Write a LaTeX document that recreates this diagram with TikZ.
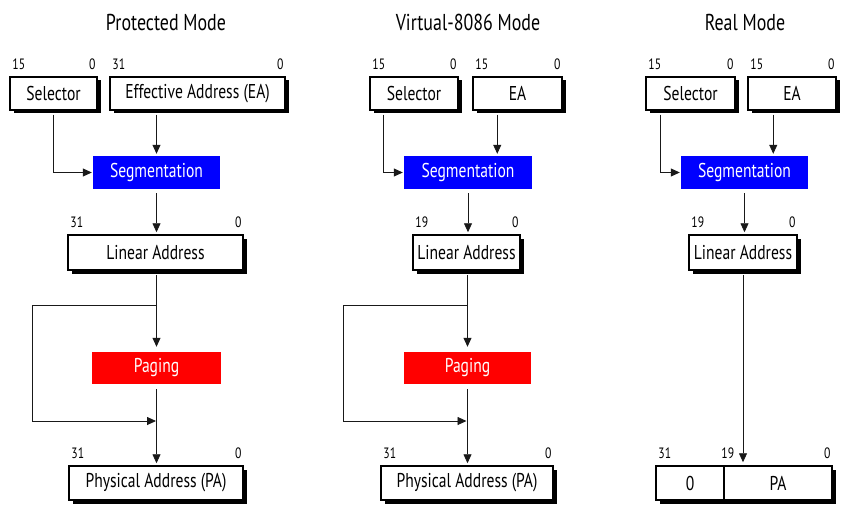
\documentclass[tikz,border=0pt]{standalone}
\usepackage{fontspec}
\setmainfont{PT Sans}[FakeStretch=0.78]
\usetikzlibrary{arrows.meta,shadows}

% bit-range labels above a register box: high bit on the left, low bit on the right
\newcommand\bitlabels[3]{%
  \node[bit, anchor=base west] (#1-hi) at ([shift={(3pt,7pt)}]#1.north west) {#2};
  \node[bit, anchor=base east] (#1-lo) at ([shift={(-2pt,7pt)}]#1.north east) {#3};}

\begin{document}
\begin{tikzpicture}[x=1pt,y=-1pt,
  reg/.style={draw=black, line width=1.5pt, fill=white, minimum height=33pt,
    inner sep=0pt, font=\fontsize{20}{20}\selectfont,
    drop shadow={shadow xshift=3.5pt, shadow yshift=-3.5pt, fill=black, opacity=1}},
  unit/.style={fill=#1, text=white, minimum height=33pt, inner sep=0pt,
    font=\fontsize{20}{20}\selectfont},
  bit/.style={font=\fontsize{15}{15}\selectfont, inner sep=0pt},
  title/.style={font=\fontsize{23}{23}\selectfont, inner sep=0pt},
  conn/.style={line width=0.85pt, draw=black!90, -{Triangle[length=9pt,width=8pt]}},
]
\useasboundingbox (0,0) rectangle (845,513);

% ---------------- Protected Mode ----------------
\node[title] (tP) at (166,22) {Protected Mode};
\node[reg, minimum width=87pt] (selP) at (53.5,93.5) {Selector};
\node[reg, minimum width=175pt] (eaP) at (197.5,93.5) {Effective Address (EA)};
\node[unit=blue, minimum width=127pt] (segP) at (156.5,172.5) {Segmentation};
\node[reg, minimum width=175pt, minimum height=35pt] (linP) at (155.5,252.5) {Linear Address};
\node[unit=red, minimum width=129pt, minimum height=32pt] (pagP) at (156.5,368) {Paging};
\node[reg, minimum width=174pt, minimum height=34pt] (paP) at (156,483) {Physical Address (PA)};
\bitlabels{selP}{15}{0}
\bitlabels{eaP}{31}{0}
\bitlabels{linP}{31}{0}
\bitlabels{paP}{31}{0}

\draw[conn, shorten <=4pt, shorten >=2pt] (segP.north |- eaP.south) -- (segP.north);
\draw[conn, shorten <=4pt, shorten >=1pt] (selP.south) |- (segP.west);
\draw[conn, shorten <=4pt, shorten >=2pt] (segP.south) -- (segP.south |- linP.north);
\draw[conn, shorten <=4pt, shorten >=5pt] (pagP.north |- linP.south) -- (pagP.north);
\coordinate (brP) at (157,305);
\coordinate (lpP) at (32,421);
\coordinate (mgP) at (157,421);
\draw[conn, shorten >=1pt] (brP) -| (lpP) -- (mgP);
\draw[conn, shorten <=5pt, shorten >=2pt] (pagP.south) -- (pagP.south |- paP.north);

% ---------------- Virtual-8086 Mode ----------------
\node[title] (tV) at (468,22) {Virtual-8086 Mode};
\node[reg, minimum width=88pt] (selV) at (414,93.5) {Selector};
\node[reg, minimum width=89pt] (eaV) at (517.5,93.5) {EA};
\node[unit=blue, minimum width=128pt] (segV) at (468,172.5) {Segmentation};
\node[reg, minimum width=107pt, minimum height=35pt] (linV) at (466.5,252.5) {Linear Address};
\node[unit=red, minimum width=127pt, minimum height=32pt] (pagV) at (467.5,368) {Paging};
\node[reg, minimum width=172pt, minimum height=34pt] (paV) at (467,483) {Physical Address (PA)};
\bitlabels{selV}{15}{0}
\bitlabels{eaV}{15}{0}
\bitlabels{linV}{19}{0}
\bitlabels{paV}{31}{0}

\coordinate (selVo) at ([xshift=14pt]selV.south west);
\coordinate (eaVo) at ([xshift=25pt]eaV.south west);
\draw[conn, shorten <=4pt, shorten >=2pt] (eaVo) -- (eaVo |- segV.north);
\draw[conn, shorten <=4pt, shorten >=1pt] (selVo) |- (segV.west);
\draw[conn, shorten <=4pt, shorten >=2pt] (segV.south) -- (segV.south |- linV.north);
\draw[conn, shorten <=4pt, shorten >=5pt] (pagV.north |- linV.south) -- (pagV.north);
\coordinate (brV) at (467.5,305);
\coordinate (lpV) at (343,421);
\coordinate (mgV) at (467.5,421);
\draw[conn, shorten >=1pt] (brV) -| (lpV) -- (mgV);
\draw[conn, shorten <=5pt, shorten >=2pt] (pagV.south) -- (pagV.south |- paV.north);

% ---------------- Real Mode ----------------
\node[title] (tR) at (745,22) {Real Mode};
\node[reg, minimum width=89pt] (selR) at (690.5,93.5) {Selector};
\node[reg, minimum width=88pt] (eaR) at (792,93.5) {EA};
\node[unit=blue, minimum width=127pt] (segR) at (744.5,172.5) {Segmentation};
\node[reg, minimum width=108pt, minimum height=35pt] (linR) at (743,252.5) {Linear Address};
\node[reg, minimum width=68pt, minimum height=34pt] (paR0) at (690,483) {0};
\node[reg, minimum width=108pt, minimum height=34pt] (paR1) at (778,483) {PA};
\bitlabels{selR}{15}{0}
\bitlabels{eaR}{15}{0}
\bitlabels{linR}{19}{0}
\node[bit, anchor=base west] (paR0-hi) at ([shift={(3pt,7pt)}]paR0.north west) {31};
\node[bit, anchor=base west] (paR1-hi) at ([shift={(-2pt,7pt)}]paR1.north west) {19};
\node[bit, anchor=base east] (paR1-lo) at ([shift={(-2pt,7pt)}]paR1.north east) {0};

\coordinate (selRo) at ([xshift=15pt]selR.south west);
\coordinate (eaRo) at ([xshift=26pt]eaR.south west);
\draw[conn, shorten <=4pt, shorten >=2pt] (eaRo) -- (eaRo |- segR.north);
\draw[conn, shorten <=4pt, shorten >=1pt] (selRo) |- (segR.west);
\draw[conn, shorten <=4pt, shorten >=2pt] (segR.south) -- (segR.south |- linR.north);
\draw[conn, shorten <=4pt, shorten >=3pt] (linR.south) -- (linR.south |- paR1.north);
\end{tikzpicture}
\end{document}
